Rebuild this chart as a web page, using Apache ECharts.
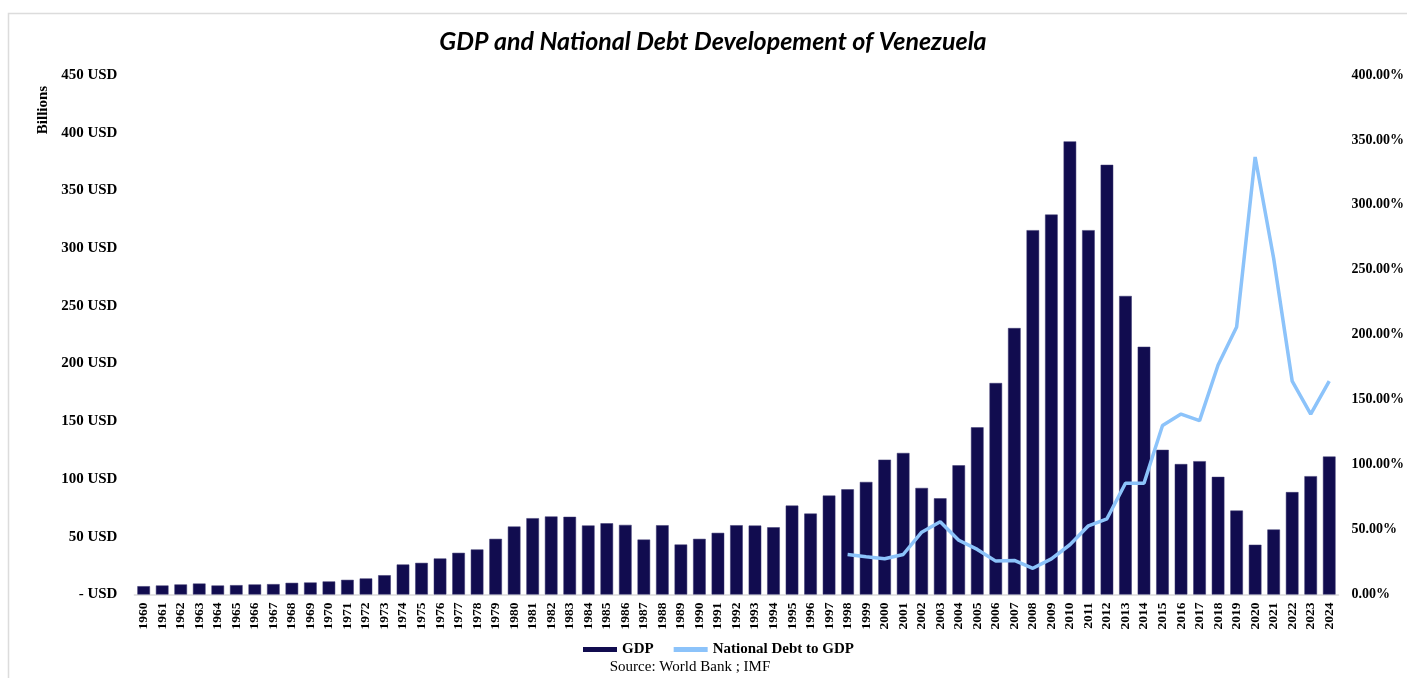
<!DOCTYPE html>
<html>
<head>
<meta charset="utf-8">
<script src="https://cdn.jsdelivr.net/npm/echarts@6/dist/echarts.min.js"></script>
<style>
html,body{margin:0;padding:0;background:#fff;}
#chart{width:1407px;height:678px;}
</style>
</head>
<body>
<div id="chart"></div>
<script>
const years = ['1960','1961','1962','1963','1964','1965','1966','1967','1968','1969',
'1970','1971','1972','1973','1974','1975','1976','1977','1978','1979',
'1980','1981','1982','1983','1984','1985','1986','1987','1988','1989',
'1990','1991','1992','1993','1994','1995','1996','1997','1998','1999',
'2000','2001','2002','2003','2004','2005','2006','2007','2008','2009',
'2010','2011','2012','2013','2014','2015','2016','2017','2018','2019',
'2020','2021','2022','2023','2024'];

// GDP, billions USD
const gdp = [7.2,7.8,8.7,9.5,7.8,8.1,8.7,9.0,10.1,10.4,
11.3,12.7,13.9,16.7,26.0,27.4,31.2,36.1,39.0,48.2,
58.9,66.1,67.6,67.3,59.8,61.7,60.3,47.6,60.0,43.3,
48.2,53.4,60.0,59.7,58.2,77.0,70.1,85.7,91.1,97.5,
116.8,122.6,92.3,83.3,111.9,144.8,183.2,230.8,315.6,329.1,
392.5,315.6,372.2,258.6,214.6,125.3,113.0,115.5,101.9,72.7,
43.1,56.3,88.7,102.5,119.5];

// National debt to GDP, percent
const debt = [null,null,null,null,null,null,null,null,null,null,
null,null,null,null,null,null,null,null,null,null,
null,null,null,null,null,null,null,null,null,null,
null,null,null,null,null,null,null,null,30.8,29.0,
27.5,30.8,48.0,56.0,41.8,34.7,25.7,26.2,20.2,27.4,
38.3,52.9,58.3,85.7,85.7,130.1,138.9,133.9,176.7,206.0,
336.9,258.8,164.3,138.9,164.3];

const titleText = 'GDP and National Debt Developement of Venezuela';
const sourceText = 'Source: World Bank ; IMF';
const unitText = 'Billions';

const serif = '"Liberation Serif","DejaVu Serif",serif';
const chart = echarts.init(document.getElementById('chart'), null, {renderer:'canvas'});
chart.setOption({
  animation:false,
  backgroundColor:'#ffffff',
  graphic:[
    {type:'rect', silent:true, z:-10, shape:{x:8.5, y:13.5, width:1500, height:900}, style:{fill:'none', stroke:'#dcdcdc', lineWidth:1.5}},
    {type:'text', silent:true, x:713, y:42,
      style:{text:titleText, font:'italic bold 25px Lato, "Open Sans", sans-serif', fill:'#000', align:'center', verticalAlign:'middle'}},
    {type:'text', silent:true, x:43, y:110, rotation:Math.PI/2,
      style:{text:unitText, font:'bold 15px "Liberation Serif", serif', fill:'#000', align:'center', verticalAlign:'middle'}},
    {type:'text', silent:true, x:690, y:667,
      style:{text:sourceText, font:'15px "Liberation Serif", serif', fill:'#000', align:'center', verticalAlign:'middle'}}
  ],
  legend:{
    top:637, left:578,
    itemWidth:34, itemHeight:5, itemGap:20,
    itemStyle:{borderWidth:0},
    textStyle:{fontFamily:serif, fontWeight:'bold', fontSize:15, color:'#000'},
    data:[{name:'GDP', icon:'rect'}, {name:'National Debt to GDP', icon:'rect'}]
  },
  grid:{left:134.4, right:67.5, top:75, bottom:83.5, containLabel:false},
  xAxis:{
    type:'category', data:years,
    axisLine:{lineStyle:{color:'#d9d9d9', width:1.5}},
    axisTick:{show:false},
    axisLabel:{rotate:90, interval:0, margin:8, fontFamily:serif, fontWeight:'bold', fontSize:13.5, color:'#000'}
  },
  yAxis:[
    {type:'value', min:0, max:450, interval:50,
      splitLine:{show:false}, axisLine:{show:false}, axisTick:{show:false},
      axisLabel:{margin:17, fontFamily:serif, fontWeight:'bold', fontSize:15, color:'#000',
        formatter:v => v===0 ? '- USD' : v + ' USD'}},
    {type:'value', min:0, max:400, interval:50, position:'right',
      splitLine:{show:false}, axisLine:{show:false}, axisTick:{show:false},
      axisLabel:{margin:13, fontFamily:serif, fontWeight:'bold', fontSize:14, color:'#000',
        formatter:v => v.toFixed(2) + '%'}}
  ],
  series:[
    {name:'GDP', type:'bar', data:gdp, yAxisIndex:0, barCategoryGap:'32%',
      itemStyle:{color:'#110c4f', borderColor:'#3a3670', borderWidth:0.5}},
    {name:'National Debt to GDP', type:'line', data:debt, yAxisIndex:1,
      showSymbol:false, symbol:'none', connectNulls:false,
      lineStyle:{color:'#8cc3fa', width:3.5}, itemStyle:{color:'#8cc3fa'}, z:5}
  ]
});
</script>
</body>
</html>
